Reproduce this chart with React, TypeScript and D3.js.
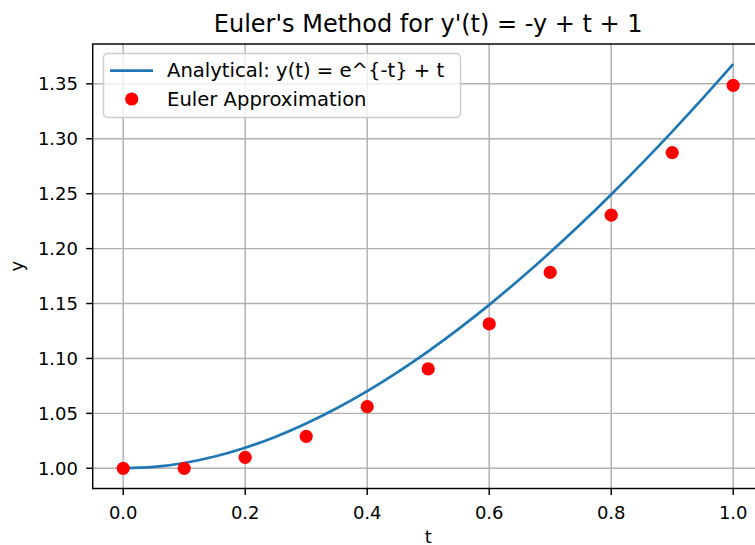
import React from "react";
import * as d3 from "d3";

const eulerT = [0, 0.1, 0.2, 0.3, 0.4, 0.5, 0.6, 0.7, 0.8, 0.9, 1.0];
const eulerY = [1.0, 1.0, 1.01, 1.029, 1.0561, 1.09049, 1.131441, 1.178297, 1.230467, 1.28742, 1.348678];

const exactT = [0, 0.05, 0.1, 0.15, 0.2, 0.25, 0.3, 0.35, 0.4, 0.45, 0.5, 0.55, 0.6, 0.65, 0.7, 0.75, 0.8, 0.85, 0.9, 0.95, 1.0];
const exactY = [1.0, 1.001229, 1.004837, 1.010708, 1.018731, 1.028801, 1.040818, 1.054688, 1.07032, 1.087628, 1.106531, 1.12695, 1.148812, 1.172046, 1.196585, 1.222367, 1.249329, 1.277415, 1.30657, 1.336741, 1.367879];

const xTicks = [0.0, 0.2, 0.4, 0.6, 0.8, 1.0];
const yTicks = [1.0, 1.05, 1.1, 1.15, 1.2, 1.25, 1.3, 1.35];

const title = "Euler's Method for y'(t) = -y + t + 1";
const xLabel = "t";
const yLabel = "y";
const legendLabels = ["Analytical: y(t) = e^{-t} + t", "Euler Approximation"];

export default function App() {
  const W = 755, H = 545;
  const left = 92.7, right = 763.7, top = 44, bottom = 488.5;
  const x = d3.scaleLinear().domain([-0.05, 1.05]).range([left, right]);
  const yMin = 1.0 - 0.05 * 0.367879, yMax = 1.367879 + 0.05 * 0.367879;
  const y = d3.scaleLinear().domain([yMin, yMax]).range([bottom, top]);
  const line = d3.line<number>().x((_, i) => x(exactT[i])).y((d) => y(d)).curve(d3.curveMonotoneX);
  const font = "DejaVu Sans, sans-serif";
  const tickLen = 6.5;
  const fs = 18;
  const lfs = 19.6;
  return (
    <svg width={W} height={H} style={{ position: "absolute", left: 0, top: 0, background: "#fff" }} fontFamily={font}>
      <defs>
        <clipPath id="plot"><rect x={left} y={top} width={right - left} height={bottom - top} /></clipPath>
      </defs>
      {xTicks.map((t) => (
        <line key={"gx" + t} x1={x(t)} x2={x(t)} y1={top} y2={bottom} stroke="#b0b0b0" strokeWidth={1.45} />
      ))}
      {yTicks.map((t) => (
        <line key={"gy" + t} x1={left} x2={right} y1={y(t)} y2={y(t)} stroke="#b0b0b0" strokeWidth={1.45} />
      ))}
      <g clipPath="url(#plot)">
        <path d={line(exactY) || ""} fill="none" stroke="#1f77b4" strokeWidth={2.7} />
        {eulerY.map((v, i) => (
          <circle key={"e" + i} cx={x(eulerT[i])} cy={y(v)} r={6.6} fill="red" />
        ))}
      </g>
      <rect x={left} y={top} width={right - left} height={bottom - top} fill="none" stroke="#000" strokeWidth={1.45} />
      {xTicks.map((t) => (
        <g key={"tx" + t}>
          <line x1={x(t)} x2={x(t)} y1={bottom} y2={bottom + tickLen} stroke="#000" strokeWidth={1.45} />
          <text x={x(t)} y={518.5} fontSize={fs} textAnchor="middle" fill="#000">{t.toFixed(1)}</text>
        </g>
      ))}
      {yTicks.map((t) => (
        <g key={"ty" + t}>
          <line x1={left - tickLen} x2={left} y1={y(t)} y2={y(t)} stroke="#000" strokeWidth={1.45} />
          <text x={78} y={y(t) + 6.5} fontSize={fs} textAnchor="end" fill="#000">{t.toFixed(2)}</text>
        </g>
      ))}
      <text x={(left + right) / 2} y={32.3} fontSize={24} textAnchor="middle" fill="#000">{title}</text>
      <text x={(left + right) / 2} y={543} fontSize={fs} textAnchor="middle" fill="#000">{xLabel}</text>
      <text transform={`translate(22.5, ${(top + bottom) / 2}) rotate(-90)`} fontSize={fs} textAnchor="middle" fill="#000">{yLabel}</text>
      <g>
        <rect x={103.5} y={53.5} width={357} height={64} rx={4} fill="#fff" fillOpacity={0.8} stroke="#cccccc" strokeWidth={1.45} />
        <line x1={110} x2={153} y1={70.7} y2={70.7} stroke="#1f77b4" strokeWidth={2.7} />
        <text x={167} y={77.3} fontSize={lfs} fill="#000">{legendLabels[0]}</text>
        <circle cx={131.7} cy={99} r={6.6} fill="red" />
        <text x={167} y={106} fontSize={lfs} fill="#000">{legendLabels[1]}</text>
      </g>
    </svg>
  );
}
